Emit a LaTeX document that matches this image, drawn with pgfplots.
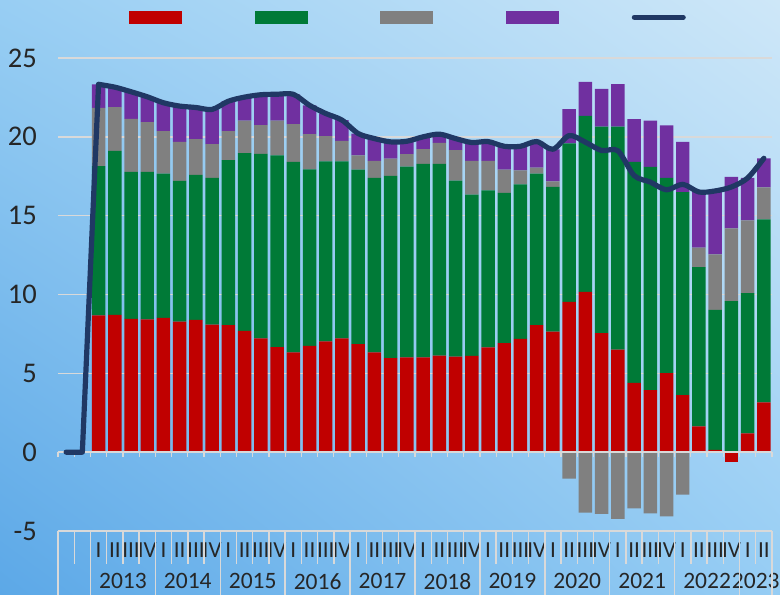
\documentclass[border=0pt]{standalone}
\usepackage{pgfplots}
\pgfplotsset{compat=1.18}
\usepackage{pgfplotstable}
\usetikzlibrary{shadings}
\usepackage{fontspec}
\setmainfont{Carlito}
\definecolor{cred}{HTML}{C00000}
\definecolor{cgreen}{HTML}{007A37}
\definecolor{cgray}{HTML}{808080}
\definecolor{cpurple}{HTML}{7030A0}
\definecolor{cnavy}{HTML}{203864}
\definecolor{cgrid}{HTML}{D9D9D9}
\definecolor{ctext}{HTML}{262626}
\definecolor{bgUL}{RGB}{152,206,243}
\definecolor{bgUR}{RGB}{206,231,248}
\definecolor{bgLL}{RGB}{92,168,231}
\definecolor{bgLR}{RGB}{150,205,244}

% positive components (stacked): red, green, gray, purple
\pgfplotstableread{
x    red    green  gray  purple
2.5  8.67   9.47   3.70  1.49
3.5  8.71   10.40  2.78  1.26
4.5  8.45   9.33   3.36  1.72
5.5  8.43   9.35   3.15  1.61
6.5  8.52   9.15   2.69  1.80
7.5  8.28   8.92   2.48  2.27
8.5  8.39   9.19   2.27  2.01
9.5  8.09   9.30   2.14  2.21
10.5 8.05   10.47  1.84  1.90
11.5 7.69   11.27  2.06  1.50
12.5 7.22   11.70  1.82  1.93
13.5 6.67   12.16  2.19  1.68
14.5 6.33   12.08  2.40  1.89
15.5 6.74   11.20  2.23  1.83
16.5 7.03   11.42  1.59  1.44
17.5 7.22   11.23  1.30  1.31
18.5 6.86   11.06  0.91  1.38
19.5 6.33   11.06  1.08  1.42
20.5 5.97   11.55  1.10  1.06
21.5 6.02   12.09  0.79  0.82
22.5 6.02   12.26  0.94  0.78
23.5 6.12   12.16  1.34  0.55
24.5 6.06   11.16  1.93  0.74
25.5 6.10   10.23  2.14  1.17
26.5 6.65   9.96   1.86  1.23
27.5 6.91   9.53   1.48  1.48
28.5 7.18   9.81   0.89  1.52
29.5 8.05   9.62   0.38  1.65
30.5 7.65   9.17   0.36  2.03
31.5 9.54   10.04  0     2.18
32.5 10.17  11.16  0     2.16
33.5 7.55   13.09  0     2.40
34.5 6.50   14.14  0     2.71
35.5 4.39   14.02  0     2.71
36.5 3.94   14.15  0     2.93
37.5 5.02   12.37  0     3.33
38.5 3.62   12.88  0     3.18
39.5 1.63   10.11  1.23  3.53
40.5 0.15   8.88   3.51  4.03
41.5 0      9.58   4.61  3.27
42.5 1.19   8.89   4.62  2.69
43.5 3.16   11.61  2.03  1.84
}\pos

% negative parts
\pgfplotstableread{
x    gray
31.5 -1.68
32.5 -3.83
33.5 -3.91
34.5 -4.23
35.5 -3.57
36.5 -3.89
37.5 -4.08
38.5 -2.69
}\neggray
\pgfplotstableread{
x    red
41.5 -0.64
}\negred

% total (line)
\pgfplotstableread{
x    total
0.5  0
1.5  0
2.5  23.33
3.5  23.15
4.5  22.86
5.5  22.54
6.5  22.16
7.5  21.95
8.5  21.86
9.5  21.74
10.5 22.26
11.5 22.52
12.5 22.67
13.5 22.70
14.5 22.70
15.5 22.00
16.5 21.48
17.5 21.06
18.5 20.21
19.5 19.89
20.5 19.68
21.5 19.72
22.5 20.00
23.5 20.17
24.5 19.89
25.5 19.64
26.5 19.70
27.5 19.40
28.5 19.40
29.5 19.70
30.5 19.21
31.5 20.08
32.5 19.66
33.5 19.13
34.5 19.12
35.5 17.55
36.5 17.13
37.5 16.64
38.5 16.99
39.5 16.50
40.5 16.57
41.5 16.82
42.5 17.39
43.5 18.64
}\total

\begin{document}
\begin{tikzpicture}
\useasboundingbox (0,0) rectangle (780bp,595bp);
\shade[upper left=bgUL, upper right=bgUR, lower left=bgLL, lower right=bgLR] (0,0) rectangle (780bp,595bp);
\pgfplotsset{common/.style={at={(58bp,64bp)}, anchor=south west, scale only axis,
  width=714bp, height=473bp, xmin=0, xmax=44, ymin=-5, ymax=25}}

\begin{axis}[common, ybar stacked, bar width=0.83,
  axis line style={draw=none}, major tick length=0pt,
  ytick={-5,0,5,10,15,20,25}, yticklabels={-5,0,5,10,15,20,25},
  yticklabel style={anchor=east, inner sep=0pt, xshift=-21bp, font=\fontsize{28.5bp}{30bp}\selectfont, text=ctext},
  ymajorgrids, grid style={cgrid, line width=1.4bp},
  xtick={0.5,1.5,...,43.5},
  xticklabels={{},{},I,II,III,IV,I,II,III,IV,I,II,III,IV,I,II,III,IV,I,II,III,IV,I,II,III,IV,I,II,III,IV,I,II,III,IV,I,II,III,IV,I,II,III,IV,I,II},
  xticklabel style={anchor=north, inner sep=0pt, yshift=-12bp, font=\fontsize{23bp}{25bp}\selectfont, text=ctext},
  extra x ticks={4,8,...,40,43},
  extra x tick labels={2013,2014,2015,2016,2017,2018,2019,2020,2021,2022,2023},
  extra x tick style={grid=none, xticklabel style={yshift=-30.5bp, font=\fontsize{23.5bp}{25bp}\selectfont}},
]
\addplot[fill=cred, draw=none] table[x=x, y=red]{\pos};
\addplot[fill=cgreen, draw=none] table[x=x, y=green]{\pos};
\addplot[fill=cgray, draw=none] table[x=x, y=gray]{\pos};
\addplot[fill=cpurple, draw=none] table[x=x, y=purple]{\pos};
\end{axis}

\begin{axis}[common, hide axis, clip=false,
  legend columns=5,
  legend style={at={(axis description cs:0,1)}, anchor=north west, xshift=71bp, yshift=47bp,
    draw=none, fill=none, inner sep=0pt, outer sep=0pt, nodes={inner sep=0pt},
    /tikz/every odd column/.append style={column sep=0pt},
    /tikz/every even column/.append style={column sep=72.3bp}},
]
\addplot[ybar, bar width=0.83, bar shift=0pt, fill=cgray, draw=none, forget plot] table[x=x, y=gray]{\neggray};
\addplot[ybar, bar width=0.83, bar shift=0pt, fill=cred, draw=none, forget plot] table[x=x, y=red]{\negred};
% zero axis line with tick marks
\draw[cgrid, line width=1.4bp] (axis cs:0,0) -- (axis cs:44,0);
\pgfplotsinvokeforeach{0,...,44}{\draw[cgrid, line width=1.2bp] (axis cs:#1,0) -- ([yshift=-5bp]axis cs:#1,0);}
% multi-level category box
\pgfplotsinvokeforeach{0,...,44}{\draw[cgrid, line width=1.4bp] (axis cs:#1,-5) -- ([yshift=-33bp]axis cs:#1,-5);}
\pgfplotsinvokeforeach{0,2,6,...,42,44}{\draw[cgrid, line width=1.4bp] (axis cs:#1,-5) -- ([yshift=-70bp]axis cs:#1,-5);}
% total line
\addplot[cnavy, line width=5.2bp, line cap=round, line join=round, forget plot,
  restrict x to domain=0:3] table[x=x, y=total]{\total};
\addplot[cnavy, line width=5.2bp, smooth, line cap=round, line join=round, forget plot,
  skip coords between index={0}{2}] table[x=x, y=total]{\total};
% legend (keys only, as in the reference)
\addlegendimage{legend image code/.code={\fill[cred] (0bp,-6bp) rectangle (52bp,6bp);}}
\addlegendentry{\mbox{}}
\addlegendimage{legend image code/.code={\fill[cgreen] (0bp,-6bp) rectangle (52bp,6bp);}}
\addlegendentry{\mbox{}}
\addlegendimage{legend image code/.code={\fill[cgray] (0bp,-6bp) rectangle (52bp,6bp);}}
\addlegendentry{\mbox{}}
\addlegendimage{legend image code/.code={\fill[cpurple] (0bp,-6bp) rectangle (52bp,6bp);}}
\addlegendentry{\mbox{}}
\addlegendimage{legend image code/.code={\draw[cnavy, line width=5bp, line cap=round] (2.5bp,0bp) -- (51.5bp,0bp);}}
\addlegendentry{\mbox{}}
\end{axis}
\end{tikzpicture}
\end{document}
